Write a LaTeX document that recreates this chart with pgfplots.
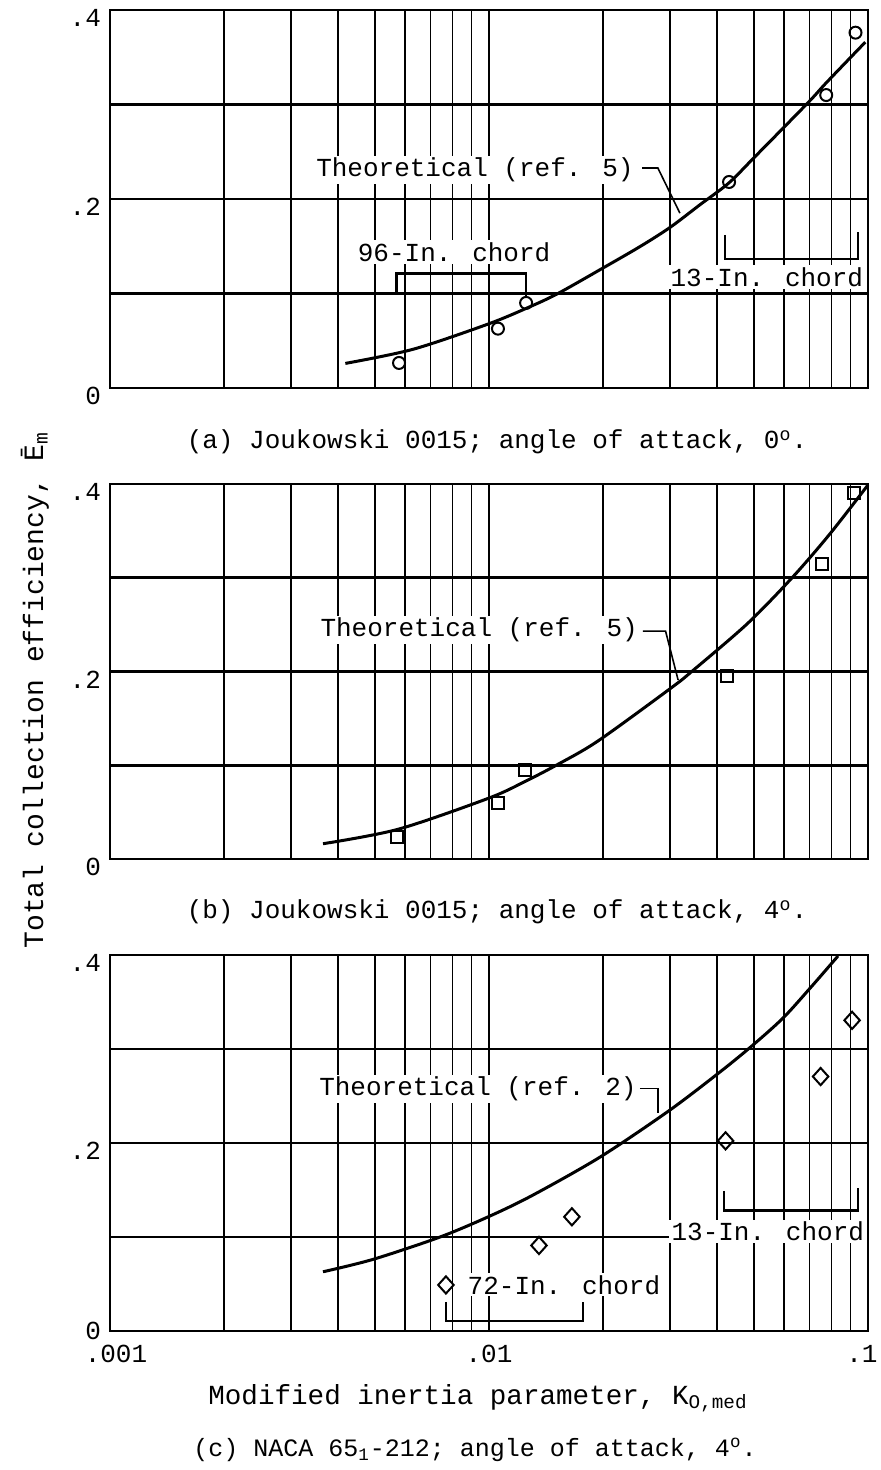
\documentclass[border=0pt]{standalone}
\usepackage{pgfplots}
\pgfplotsset{compat=1.18}
\usepackage{fontspec}
\setmainfont{Liberation Mono}
\newcommand{\lbl}{\fontsize{13pt}{15pt}\selectfont}

\tikzset{
  myann/.style={font=\lbl, fill=white, inner xsep=1.5pt, inner ysep=1pt},
  mylead/.style={line width=0.8pt},
  mybrk/.style={line width=1.3pt},
  mycurve/.style={line width=1.5pt, smooth, black},
}

\begin{document}
\begin{tikzpicture}
\path[use as bounding box] (0,0) rectangle (440pt,-735pt);

% ---------------- panel (a)
\begin{axis}[xmode=log, xmin=0.001, xmax=0.1, ymin=0, ymax=0.4,
    width=379pt, height=189pt, scale only axis, anchor=north west, at={(55pt,-5pt)},
    xtick={0.001,0.01,0.1},
    minor xtick={0.002,0.003,0.004,0.005,0.006,0.007,0.008,0.009,0.01,0.02,0.03,0.04,0.05,0.06,0.07,0.08,0.09},
    xticklabels={},
    ytick={0,0.1,0.2,0.3,0.4}, yticklabels={0,,.2,,.4},
    xmajorgrids=false, xminorgrids=true, ymajorgrids=true,
    major grid style={line width=1.4pt, black},
    minor grid style={line width=0.75pt, black},
    major tick length=0pt, minor tick length=0pt,
    axis line style={line width=1.1pt},
    tick label style={font=\lbl},
    yticklabel style={yshift=-4pt, xshift=-1pt},
    clip=false]
\addplot[mycurve, no marks] coordinates {
(0.004178,0.026) (0.006310,0.041) (0.01,0.068) (0.012823,0.086)
(0.015205,0.100) (0.019999,0.127) (0.025119,0.150) (0.030061,0.170)
(0.036058,0.194) (0.042954,0.217) (0.050119,0.244) (0.069502,0.302)
(0.077625,0.323) (0.098401,0.366)};
\addplot[only marks, mark=o, mark size=3pt, mark options={line width=1pt}] coordinates {
(0.00579,0.0265) (0.01056,0.0628) (0.01253,0.090) (0.0430,0.218) (0.0776,0.310) (0.0927,0.376)};
\node[myann] at (axis cs:0.00918,0.2307) {Theoretical (ref. 5)};
\draw[mylead] (axis cs:0.02535,0.2328) -- (axis cs:0.0279,0.2328) -- (axis cs:0.0319,0.185);
\node[myann] at (axis cs:0.00809,0.1439) {96-In. chord};
\draw[mybrk] (axis cs:0.00571,0.099) -- (axis cs:0.00571,0.121) -- (axis cs:0.01253,0.121) -- (axis cs:0.01253,0.096);
\node[myann] at (axis cs:0.0541,0.1175) {13-In. chord};
\draw[mybrk] (axis cs:0.0420,0.162) -- (axis cs:0.0420,0.1365) -- (axis cs:0.0941,0.1365) -- (axis cs:0.0941,0.165);
\end{axis}

% ---------------- panel (b)
\begin{axis}[xmode=log, xmin=0.001, xmax=0.1, ymin=0, ymax=0.4,
    width=379pt, height=187.5pt, scale only axis, anchor=north west, at={(55pt,-242pt)},
    xtick={0.001,0.01,0.1},
    minor xtick={0.002,0.003,0.004,0.005,0.006,0.007,0.008,0.009,0.01,0.02,0.03,0.04,0.05,0.06,0.07,0.08,0.09},
    xticklabels={},
    ytick={0,0.1,0.2,0.3,0.4}, yticklabels={0,,.2,,.4},
    xmajorgrids=false, xminorgrids=true, ymajorgrids=true,
    major grid style={line width=1.4pt, black},
    minor grid style={line width=0.75pt, black},
    major tick length=0pt, minor tick length=0pt,
    axis line style={line width=1.1pt},
    tick label style={font=\lbl},
    yticklabel style={yshift=-4pt, xshift=-1pt},
    clip=false]
\addplot[mycurve, no marks] coordinates {
(0.003648,0.0163) (0.005754,0.0317) (0.01,0.065) (0.012589,0.0837)
(0.015205,0.101) (0.019409,0.126) (0.030130,0.182) (0.034514,0.201)
(0.048195,0.2515) (0.063387,0.301) (0.079433,0.347) (0.1,0.399)};
\addplot[only marks, mark=square, mark size=3pt, mark options={line width=1pt}] coordinates {
(0.00571,0.024) (0.01057,0.0597) (0.01247,0.095) (0.0425,0.195) (0.0757,0.315) (0.0918,0.390)};
\node[myann] at (axis cs:0.00942,0.2444) {Theoretical (ref. 5)};
\draw[mylead] (axis cs:0.02547,0.243) -- (axis cs:0.02924,0.243) -- (axis cs:0.03155,0.191);
\end{axis}

% ---------------- panel (c)
\begin{axis}[xmode=log, xmin=0.001, xmax=0.1, ymin=0, ymax=0.4,
    width=379pt, height=188pt, scale only axis, anchor=north west, at={(55pt,-477.5pt)},
    xtick={0.001,0.01,0.1},
    minor xtick={0.002,0.003,0.004,0.005,0.006,0.007,0.008,0.009,0.01,0.02,0.03,0.04,0.05,0.06,0.07,0.08,0.09},
    xticklabels={{\hspace*{6pt}.001},.01,{.1\hspace*{6pt}}}, xticklabel style={yshift=-3.5pt},
    ytick={0,0.1,0.2,0.3,0.4}, yticklabels={{\raisebox{8pt}{0}},,.2,,.4},
    xmajorgrids=false, xminorgrids=true, ymajorgrids=true,
    major grid style={line width=1.4pt, black},
    minor grid style={line width=0.75pt, black},
    major tick length=0pt, minor tick length=0pt,
    axis line style={line width=1.1pt},
    tick label style={font=\lbl},
    yticklabel style={yshift=-4pt, xshift=-1pt},
    clip=false]
\addplot[mycurve, no marks] coordinates {
(0.003648,0.063) (0.004943,0.0762) (0.007430,0.100) (0.010069,0.1224)
(0.013062,0.1446) (0.019634,0.185) (0.029648,0.2335) (0.039947,0.273)
(0.048978,0.302) (0.059704,0.333) (0.070795,0.366) (0.083368,0.399)};
\addplot[only marks, mark=diamond, mark size=4.3pt, mark options={line width=1pt, xscale=1.2}] coordinates {
(0.0077,0.049) (0.01355,0.091) (0.01655,0.1215) (0.0421,0.2023) (0.0750,0.2707) (0.0908,0.3305)};
\node[myann] at (axis cs:0.00935,0.2578) {Theoretical (ref. 2)};
\draw[mylead] (axis cs:0.02502,0.2578) -- (axis cs:0.0279,0.2578) -- (axis cs:0.0279,0.232);
\node[myann] at (axis cs:0.01577,0.0492) {72-In. chord};
\draw[mybrk] (axis cs:0.0077,0.031) -- (axis cs:0.0077,0.0107) -- (axis cs:0.0177,0.0107) -- (axis cs:0.0177,0.031);
\node[myann] at (axis cs:0.0544,0.106) {13-In. chord};
\draw[mybrk] (axis cs:0.0417,0.149) -- (axis cs:0.0417,0.128) -- (axis cs:0.0941,0.128) -- (axis cs:0.0941,0.152);
\end{axis}

% ---------------- outer texts
\node[font=\fontsize{14pt}{16pt}\selectfont, rotate=90] at (17.5pt,-345pt) {Total collection efficiency, \=E\textsubscript{m}};
\node[font=\lbl] at (248.5pt,-221pt) {(a) Joukowski 0015; angle of attack, 0\textsuperscript{o}.};
\node[font=\lbl] at (248.5pt,-456pt) {(b) Joukowski 0015; angle of attack, 4\textsuperscript{o}.};
\node[font=\fontsize{13.8pt}{16pt}\selectfont] at (239pt,-699pt) {Modified inertia parameter, K\textsubscript{O,med}};
\node[font=\fontsize{12.5pt}{14pt}\selectfont] at (237.5pt,-725pt) {(c) NACA 65\textsubscript{1}-212; angle of attack, 4\textsuperscript{o}.};
\end{tikzpicture}
\end{document}
